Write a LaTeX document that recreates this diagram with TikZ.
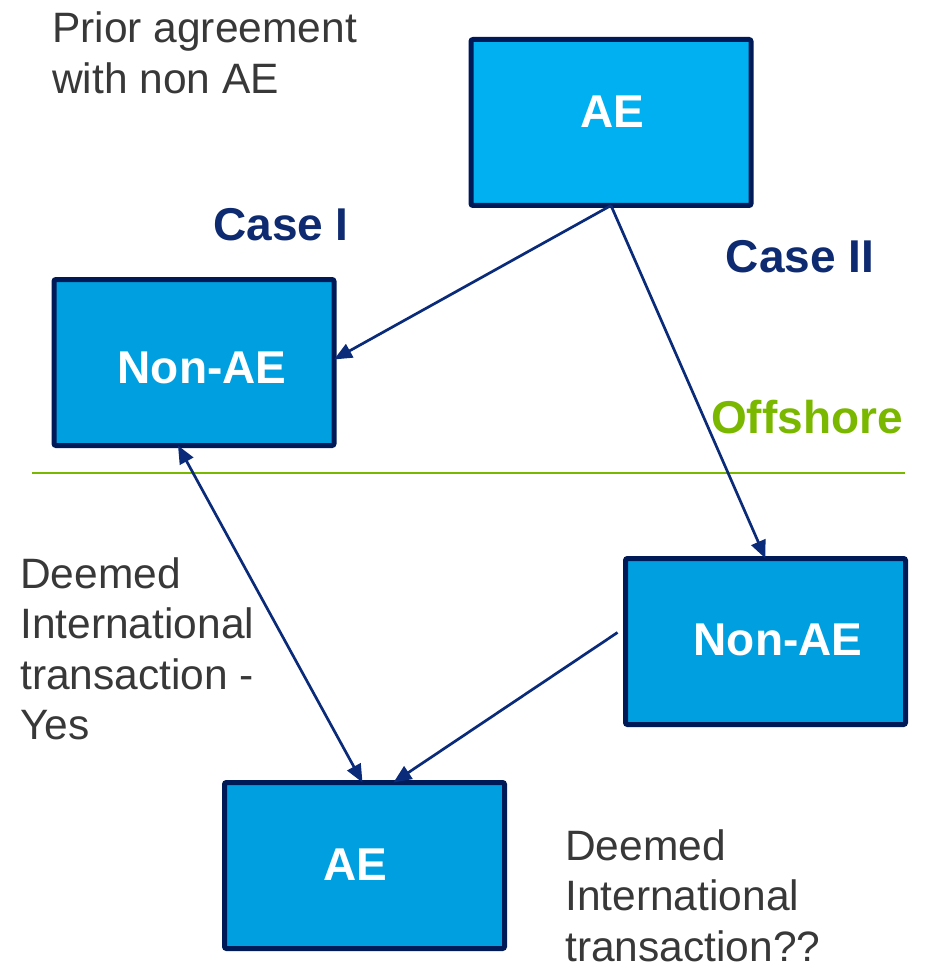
\documentclass[tikz,border=0pt]{standalone}
\usepackage{fontspec}
\setmainfont{Liberation Sans}
\usetikzlibrary{arrows.meta, positioning}
\definecolor{aetop}{HTML}{00B0F0}
\definecolor{aefill}{HTML}{00A0E0}
\definecolor{edgenavy}{HTML}{001A57}
\definecolor{arrownavy}{HTML}{0A2A7A}
\definecolor{casenavy}{HTML}{0E2A70}
\definecolor{offgreen}{HTML}{7AB800}
\definecolor{notegray}{HTML}{383838}

\begin{document}
\begin{tikzpicture}[
    x=1pt, y=-1pt,
    entity/.style={rectangle, draw=edgenavy, line width=5pt, rounded corners=2pt,
                   fill=aefill, minimum width=280pt, minimum height=166pt,
                   inner sep=0pt, outer sep=0pt},
    entitytop/.style={entity, fill=aetop},
    entitytxt/.style={text=white, font=\fontsize{46}{52}\selectfont\bfseries, inner sep=0pt},
    casetxt/.style={text=casenavy, font=\fontsize{46}{52}\selectfont\bfseries, inner sep=0pt},
    note/.style={text=notegray, font=\fontsize{42.5}{50.5}\selectfont, align=left,
                 anchor=north west, inner sep=0pt},
    arrow/.style={-{Triangle[length=18pt, width=15pt]}, line width=2.7pt, arrownavy},
    twoway/.style={{Triangle[length=18pt, width=15pt]}-{Triangle[length=18pt, width=15pt]},
                   line width=2.7pt, arrownavy}
]
    \useasboundingbox (0,0) rectangle (926,968);

    % Entities
    \node[entitytop] (aeTop) at (611,122.5) {};
    \node[entity] (nonaeL) at (194,362.5) {};
    \node[entity] (nonaeR) at (765.5,641.5) {};
    \node[entity] (aeBot) at (364.5,865.5) {};

    \node[entitytxt] (aeTopTxt) at (612,112) {AE};
    \node[entitytxt] (nonaeLTxt) at (202,368) {Non-AE};
    \node[entitytxt] (nonaeRTxt) at (778,640) {Non-AE};
    \node[entitytxt] (aeBotTxt) at (355,865) {AE};

    % Offshore divider
    \coordinate (sepL) at (32,473);
    \coordinate (sepR) at (905,473);
    \draw[offgreen, line width=2.5pt] (sepL) -- (sepR);

    % Arrows
    \draw[arrow] (aeTop.south) -- ([yshift=3pt]nonaeL.east);
    \draw[arrow] (aeTop.south) -- (nonaeR.north);
    \draw[twoway] ([xshift=-16pt]nonaeL.south) -- ([xshift=-2pt]aeBot.north);
    \draw[arrow] ([xshift=-8pt, yshift=9pt]nonaeR.west) -- ([xshift=29pt]aeBot.north);

    % Labels
    \node[casetxt] (case1) at (281,225) {Case I};
    \node[casetxt] (case2) at (800,257) {Case II};
    \node[text=offgreen, font=\fontsize{46}{52}\selectfont\bfseries, inner sep=0pt]
        (offshore) at (807,417) {Offshore};
    \node[note] (prior) at (52,12) {Prior agreement\\with non AE};
    \node[note] (deemedYes) at (20,557) {Deemed\\International\\transaction -\\Yes};
    \node[note] (deemedQ) at (565,829) {Deemed\\International\\transaction??};

\end{tikzpicture}
\end{document}
